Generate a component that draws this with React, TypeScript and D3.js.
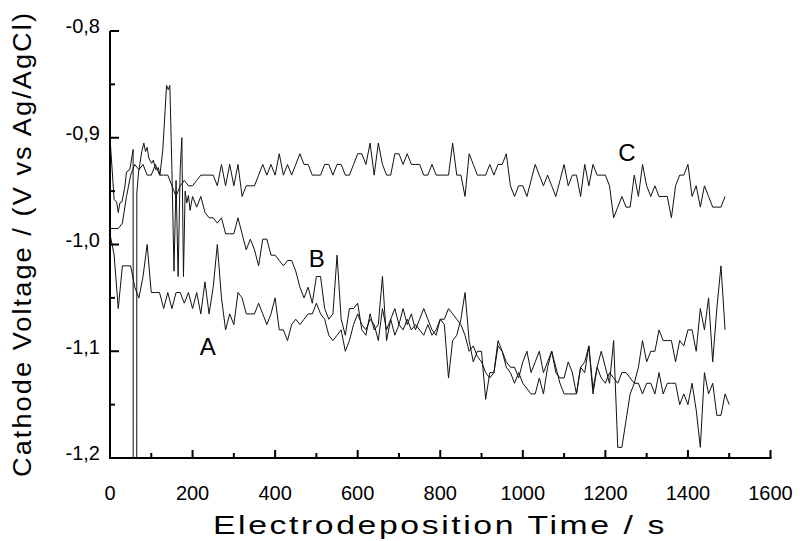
import React from "react";
import * as d3 from "d3";

// ---------- data ----------
const X_TICKS = [0, 200, 400, 600, 800, 1000, 1200, 1400, 1600];
const X_MINOR = [100, 300, 500, 700, 900, 1100, 1300, 1500];
const Y_TICKS = [-0.8, -0.9, -1.0, -1.1, -1.2];
const Y_TICK_LABELS = ["-0,8", "-0,9", "-1,0", "-1,1", "-1,2"];
const Y_MINOR = [-0.85, -0.95, -1.05, -1.15];

const STEP = 10; // s between samples

// Curve C, t = 0, 10, 20 ...
const SERIES_C = [
  -0.985, -0.985, -0.985, -0.98, -0.955, -0.935, -0.925, -0.93, -0.925, -0.935,
  -0.935, -0.925, -0.935, -0.935, -0.935, -0.945, -0.955, -0.945, -0.94, -0.945,
  -0.945, -0.94, -0.935, -0.935, -0.935, -0.935, -0.945, -0.925, -0.945, -0.925,
  -0.945, -0.925, -0.955, -0.945, -0.945, -0.945, -0.935, -0.925, -0.935, -0.925,
  -0.935, -0.915, -0.935, -0.925, -0.935, -0.925, -0.915, -0.925, -0.925, -0.935,
  -0.935, -0.935, -0.925, -0.925, -0.935, -0.925, -0.925, -0.935, -0.935, -0.925,
  -0.915, -0.915, -0.925, -0.905, -0.935, -0.905, -0.925, -0.935, -0.935, -0.915,
  -0.915, -0.925, -0.915, -0.925, -0.925, -0.925, -0.935, -0.935, -0.925, -0.935,
  -0.935, -0.935, -0.935, -0.905, -0.935, -0.935, -0.955, -0.915, -0.925, -0.935,
  -0.935, -0.935, -0.925, -0.935, -0.925, -0.925, -0.915, -0.945, -0.955, -0.945,
  -0.945, -0.955, -0.94, -0.925, -0.935, -0.945, -0.935, -0.945, -0.955, -0.94,
  -0.925, -0.945, -0.935, -0.935, -0.955, -0.925, -0.945, -0.925, -0.935, -0.935,
  -0.935, -0.945, -0.975, -0.965, -0.955, -0.965, -0.965, -0.935, -0.955, -0.925,
  -0.945, -0.955, -0.945, -0.955, -0.955, -0.955, -0.975, -0.945, -0.935, -0.935,
  -0.925, -0.955, -0.945, -0.965, -0.945, -0.955, -0.965, -0.965, -0.965, -0.955,
];

// Curve A, t = 0, 10, 20 ...
const SERIES_A = [
  -0.99, -1.01, -1.06, -1.02, -1.02, -1.02, -1.04, -1.05, -1.03, -1.0,
  -1.045, -1.045, -1.045, -1.06, -1.045, -1.06, -1.045, -1.045, -1.055, -1.045,
  -1.06, -1.045, -1.065, -1.035, -1.065, -1.04, -1.0, -1.05, -1.08, -1.065,
  -1.075, -1.045, -1.05, -1.065, -1.065, -1.065, -1.055, -1.065, -1.075, -1.065,
  -1.05, -1.08, -1.08, -1.09, -1.075, -1.07, -1.075, -1.07, -1.065, -1.065,
  -1.055, -1.065, -1.07, -1.085, -1.09, -1.085, -1.08, -1.1, -1.09, -1.075,
  -1.065, -1.075, -1.08, -1.07, -1.075, -1.09, -1.06, -1.08, -1.07, -1.06,
  -1.075, -1.06, -1.075, -1.065, -1.08, -1.07, -1.06, -1.07, -1.08, -1.085,
  -1.07, -1.07, -1.06, -1.065, -1.07, -1.075, -1.085, -1.1, -1.095, -1.105,
  -1.11, -1.12, -1.125, -1.12, -1.09, -1.1, -1.115, -1.12, -1.13, -1.12,
  -1.13, -1.135, -1.14, -1.14, -1.125, -1.14, -1.115, -1.1, -1.115, -1.13,
  -1.14, -1.14, -1.14, -1.14, -1.115, -1.11, -1.095, -1.135, -1.115, -1.125,
  -1.13, -1.12, -1.125, -1.13, -1.12, -1.12, -1.125, -1.13, -1.13, -1.14,
  -1.13, -1.13, -1.14, -1.12, -1.14, -1.13, -1.13, -1.13, -1.15, -1.14,
  -1.15, -1.13, -1.155, -1.19, -1.12, -1.14, -1.13, -1.16, -1.16, -1.14, -1.15,
];

// Curve B, first 200 s (denser, irregular sampling)
const SERIES_B_EARLY_T = [
  0, 10, 16, 20, 24, 29, 36, 40, 48, 56, 60, 65, 69, 77, 82, 86, 90, 94, 101, 105,
  111, 117, 121, 128, 137, 141, 145, 150, 155, 160, 165, 170, 174, 178, 182, 186, 190, 194,
];
const SERIES_B_EARLY_V = [
  -0.9, -0.958, -0.96, -0.97, -0.961, -0.96, -0.946, -0.932, -0.93, -0.911, -6.0, -0.952, -0.933,
  -0.913, -0.905, -0.913, -0.909, -0.919, -0.924, -0.921, -0.93, -0.928, -0.935, -0.911, -0.851,
  -0.855, -0.851, -0.93, -1.025, -0.94, -1.03, -0.93, -0.9, -1.03, -0.95, -0.961, -0.954, -0.968,
];
// Curve B from t = 200 s, every 10 s
const SERIES_B = [
  -0.955, -0.965, -0.955, -0.97, -0.975, -0.975, -0.98, -0.975, -0.99, -0.99,
  -0.99, -0.975, -0.99, -1.005, -0.995, -1.005, -1.02, -0.995, -0.995, -1.01,
  -1.01, -1.015, -1.02, -1.015, -1.015, -1.025, -1.04, -1.05, -1.04, -1.055,
  -1.03, -1.03, -1.06, -1.07, -1.065, -1.01, -1.07, -1.085, -1.06, -1.06,
  -1.055, -1.08, -1.085, -1.065, -1.08, -1.075, -1.03, -1.09, -1.07, -1.085,
  -1.075, -1.08, -1.07, -1.08, -1.075, -1.08, -1.085, -1.075, -1.085, -1.08,
  -1.07, -1.075, -1.125, -1.09, -1.085, -1.07, -1.045, -1.09, -1.11, -1.1,
  -1.1, -1.145, -1.12, -1.12, -1.095, -1.1, -1.11, -1.115, -1.115, -1.125,
  -1.11, -1.1, -1.12, -1.11, -1.1, -1.12, -1.11, -1.1, -1.12, -1.125,
  -1.125, -1.11, -1.12, -1.14, -1.115, -1.12, -1.095, -1.14, -1.115, -1.1,
  -1.115, -1.13, -1.09, -1.19, -1.19, -1.165, -1.14, -1.13, -1.115, -1.09,
  -1.11, -1.1, -1.1, -1.08, -1.09, -1.09, -1.09, -1.11, -1.09, -1.095,
  -1.08, -1.08, -1.1, -1.06, -1.08, -1.05, -1.11, -1.06, -1.02, -1.08,
];
const SERIES_B_START = 200;

const CURVE_LABELS = ["A", "B", "C"];
const CURVE_LABEL_T = [237, 501, 1252];
const CURVE_LABEL_V = [-1.096, -1.013, -0.914];

// ---------- chart ----------
const W = 800;
const H = 541;
const FONT = "'Liberation Sans', Arial, Helvetica, sans-serif";

export default function App() {
  const x = d3.scaleLinear().domain([0, 1600]).range([110, 770.5]);
  const y = d3.scaleLinear().domain([-1.2, -0.8]).range([458, 31]);

  type P = [number, number];
  const cPts: P[] = SERIES_C.map((v, i) => [i * STEP, v]);
  const aPts: P[] = SERIES_A.map((v, i) => [i * STEP, v]);
  const bPts: P[] = [
    ...SERIES_B_EARLY_T.map((t, i) => [t, SERIES_B_EARLY_V[i]] as P),
    ...SERIES_B.map((v, i) => [SERIES_B_START + i * STEP, v] as P),
  ];

  const line = d3
    .line<P>()
    .x((d) => x(d[0]))
    .y((d) => y(d[1]));

  const [x0, x1] = x.range();
  const [yb, yt] = y.range();

  return (
    <div style={{ position: "absolute", left: 0, top: 0 }}>
      <svg width={W} height={H} style={{ display: "block", background: "#fff" }}>
        <defs>
          <clipPath id="plot">
            <rect x={x0} y={yt} width={x1 - x0} height={yb - yt} />
          </clipPath>
        </defs>

        <g clipPath="url(#plot)" fill="none" stroke="#111" strokeWidth={1} strokeLinejoin="miter">
          <path d={line(aPts) || ""} />
          <path d={line(bPts) || ""} />
          <path d={line(cPts) || ""} />
        </g>

        {/* axes */}
        <g stroke="#000" strokeWidth={2} fill="none">
          <line x1={x0} y1={yt} x2={x0} y2={yb + 1} />
          <line x1={x0 - 1} y1={yb} x2={x1 + 1} y2={yb} />
          {Y_TICKS.map((v) => (
            <line key={"yt" + v} x1={x0} x2={x0 + 9} y1={y(v)} y2={y(v)} />
          ))}
          {Y_MINOR.map((v) => (
            <line key={"ym" + v} x1={x0} x2={x0 + 5} y1={y(v)} y2={y(v)} />
          ))}
          {X_TICKS.map((t) => (
            <line key={"xt" + t} x1={x(t)} x2={x(t)} y1={yb} y2={yb - 8} />
          ))}
          {X_MINOR.map((t) => (
            <line key={"xm" + t} x1={x(t)} x2={x(t)} y1={yb} y2={yb - 5} />
          ))}
        </g>

        <g fontFamily={FONT} fontSize={20} fill="#000">
          {Y_TICKS.map((v, i) => (
            <text key={"yl" + v} x={100} y={y(v) - 3} textAnchor="end" dominantBaseline="middle">
              {Y_TICK_LABELS[i]}
            </text>
          ))}
          {X_TICKS.map((t) => (
            <text key={"xl" + t} x={x(t)} y={500} textAnchor="middle">
              {t}
            </text>
          ))}
        </g>

        <g fontFamily={FONT} fontSize={24} fill="#000">
          {CURVE_LABELS.map((s, i) => (
            <text
              key={s}
              x={x(CURVE_LABEL_T[i])}
              y={y(CURVE_LABEL_V[i])}
              textAnchor="middle"
              dominantBaseline="central"
            >
              {s}
            </text>
          ))}
        </g>

        <text
          x={440}
          y={534}
          textAnchor="middle"
          fontFamily={FONT}
          fontSize={26}
          letterSpacing={2}
          textLength={454}
          lengthAdjust="spacingAndGlyphs"
          fill="#000"
        >
          Electrodeposition Time / s
        </text>
        <text
          transform="translate(31,244) rotate(-90)"
          textAnchor="middle"
          fontFamily={FONT}
          fontSize={26}
          letterSpacing={2}
          textLength={466}
          lengthAdjust="spacingAndGlyphs"
          fill="#000"
        >
          Cathode Voltage / (V vs  Ag/AgCl)
        </text>
      </svg>
    </div>
  );
}
